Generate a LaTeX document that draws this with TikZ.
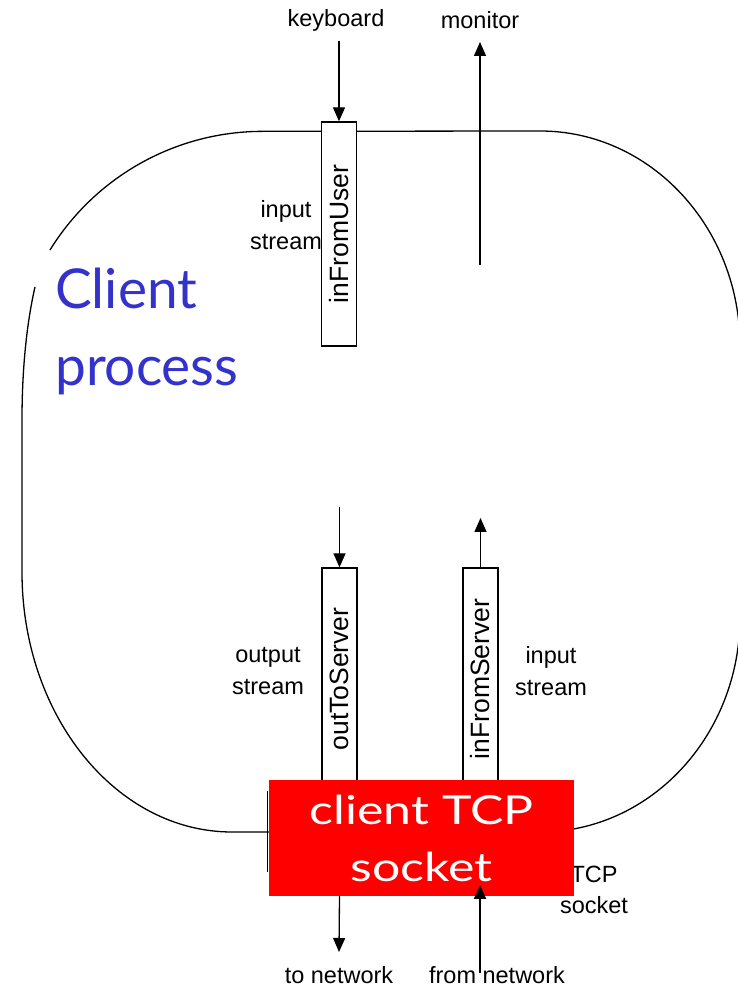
\documentclass[tikz,border=0pt]{standalone}
\usepackage{fontspec}
\usepackage{graphicx}
\setmainfont{Liberation Sans}
\newfontfamily\comicfont{Lato}
\newfontfamily\comicwide[FakeStretch=1.25]{Lato}
\usetikzlibrary{arrows.meta}
\definecolor{procblue}{RGB}{51,51,204}
\definecolor{sockred}{RGB}{255,0,0}
\begin{document}
\begin{tikzpicture}[x=1pt,y=1pt,
  outline/.style={line width=1.3pt},
  streambox/.style={draw=black, line width=1.3pt, fill=white, minimum width=35pt, inner sep=0pt, font=\fontsize{26.5}{30}\selectfont},
  lbl/.style={font=\fontsize{23.5}{31.5}\selectfont, align=center, inner sep=0pt},
  conn/.style={line width=1.3pt, -{Triangle[length=14pt,width=12pt]}},
]
\useasboundingbox (0,0) rectangle (738,987);
% process outline
\draw[outline] (50,737) arc[start angle=148.3, end angle=90, radius=250]
  -- (540,856) arc[start angle=90, end angle=0, x radius=200, y radius=215]
  -- (740,370) arc[start angle=0, end angle=-90, x radius=200, y radius=215]
  -- (232,155) arc[start angle=270, end angle=180, x radius=210, y radius=260]
  -- (22,567) .. controls (22,620) and (27,665) .. (35,700);
% title
\node[anchor=north west, align=left, inner sep=0pt, text=procblue,
  font=\comicfont\fontsize{55}{77}\selectfont] (proc) at (55,719) {Client\\process};
% top stream
\node[streambox, minimum height=224pt] (ifu) at (339,753) {\rotatebox{90}{inFromUser}};
\node[lbl] (kbd) at (336,967) {keyboard};
\node[lbl] (mon) at (480,967) {monitor};
\node[lbl] (ins1) at (286,762) {input\\stream};
\coordinate (kbdstart) at (339,946);
\coordinate (monstart) at (480,722);
\coordinate (monend) at (480,945);
\draw[conn] (kbdstart) -- (ifu.north);
\draw[conn] (monstart) -- (monend);
% bottom streams
\node[streambox, minimum height=222pt] (ots) at (339.5,308) {\rotatebox{90}{outToServer}};
\node[streambox, minimum height=222pt] (ifs) at (480.5,308) {\rotatebox{90}{inFromServer}};
\node[lbl] (outs) at (268,316) {output\\stream};
\node[lbl] (ins2) at (551,316) {input\\stream};
\coordinate (otsstart) at (339.5,480);
\coordinate (ifsend) at (480.5,469);
\draw[conn] (otsstart) -- (ots.north);
\draw[conn] (ifs.north) -- (ifsend);
% socket
\node[lbl] (tcplbl) at (594,97) {TCP\\socket};
\draw[line width=1.3pt] (267.5,196) -- (267.5,115);
\node[fill=sockred, minimum width=305pt, minimum height=116pt, inner sep=0pt,
  text=white, align=center, font=\comicwide\fontsize{40}{57}\selectfont] (sock) at (421.5,149) {client TCP\\socket};
\node[lbl] (ton) at (339,12) {to network};
\node[lbl] (fromn) at (497,12) {from network};
\coordinate (toend) at (339,35);
\coordinate (fromstart) at (480,14);
\coordinate (fromend) at (480,102);
\draw[conn] (sock.south -| ots) -- (toend);
\draw[line width=2pt, -{Triangle[length=14pt,width=12pt]}] (fromstart) -- (fromend);
\end{tikzpicture}
\end{document}
